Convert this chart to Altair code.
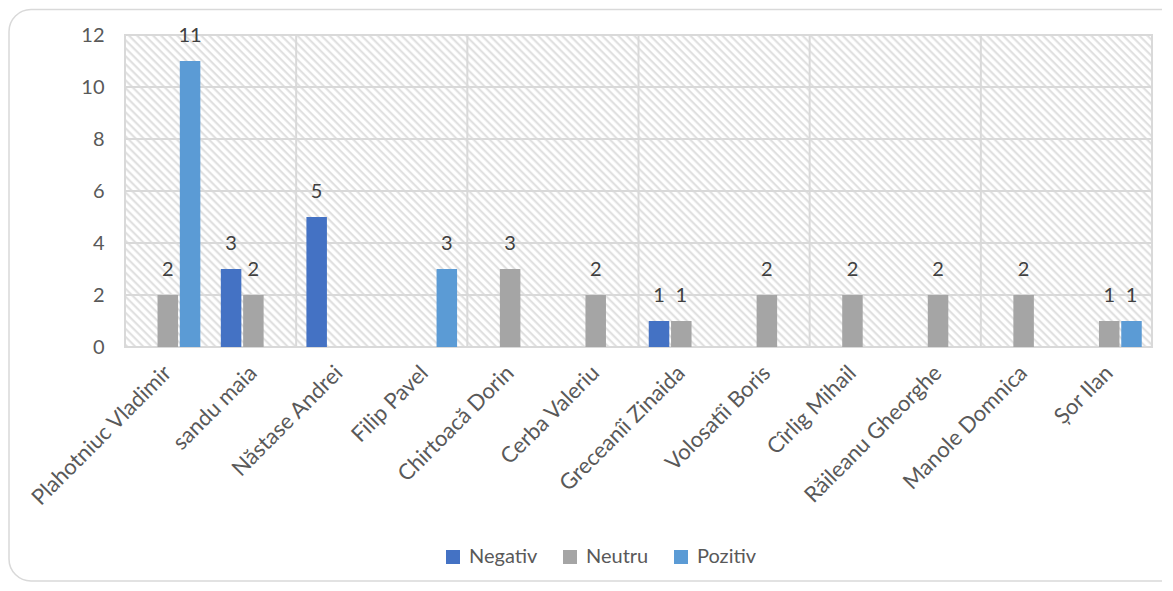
import altair as alt
import pandas as pd

categories = ["Plahotniuc Vladimir", "sandu maia", "Năstase Andrei", "Filip Pavel",
              "Chirtoacă Dorin", "Cerba Valeriu", "Greceanîi Zinaida", "Volosatîi Boris",
              "Cîrlig Mihail", "Răileanu Gheorghe", "Manole Domnica", "Șor Ilan"]
series = ["Negativ", "Neutru", "Pozitiv"]
negativ = [0, 3, 5, 0, 0, 0, 1, 0, 0, 0, 0, 0]
neutru = [2, 2, 0, 0, 3, 2, 1, 2, 2, 2, 2, 1]
pozitiv = [11, 0, 0, 3, 0, 0, 0, 0, 0, 0, 0, 1]
y_ticks = [0, 2, 4, 6, 8, 10, 12]
colors = ["#4472C4", "#A5A5A5", "#5B9BD5"]

rows = []
for s, vals in zip(series, [negativ, neutru, pozitiv]):
    for c, v in zip(categories, vals):
        rows.append({"cat": c, "series": s, "value": v})
df = pd.DataFrame(rows)

W, H = 1027, 312
FONT = "Lato"
GRID = "#d9d9d9"
TXT = "#595959"

# hatch pattern as a striped gradient (decorative background)
r = H / W
a = (1 + r) / (1 + r * r)
n_periods = int(round(((W + H) / 2 ** 0.5) / (8 / 2 ** 0.5)))
P = 1.0 / n_periods
stops = []
for k in range(n_periods):
    b = k * P
    stops += [
        alt.GradientStop(color="#ffffff", offset=b),
        alt.GradientStop(color="#dedede", offset=b + 0.32 * P),
        alt.GradientStop(color="#dedede", offset=b + 0.40 * P),
        alt.GradientStop(color="#ffffff", offset=b + 0.64 * P),
    ]
stops.append(alt.GradientStop(color="#ffffff", offset=1.0))
hatch = alt.LinearGradient(gradient="linear", stops=stops, x1=0, y1=1, x2=a, y2=1 - a * r)

xscale = alt.Scale(domain=categories, paddingInner=0, paddingOuter=0)
yscale = alt.Scale(domain=[0, 12])

x_axis = alt.Axis(labelAngle=-45, labelAlign="right", labelBaseline="middle",
                  labelFontSize=22, labelFont=FONT, labelColor=TXT, labelPadding=22,
                  labelLimit=0, ticks=False, domain=False, grid=False, title=None)
y_axis = alt.Axis(values=y_ticks, labelFontSize=20, labelFont=FONT, labelColor=TXT,
                  labelPadding=21, ticks=False, domain=False, grid=False, title=None)

one = alt.Data(values=[{"k": 1}])

border = alt.Chart(one).mark_rect(
    fillOpacity=0, stroke=GRID, strokeWidth=1.5, cornerRadius=22
).encode(x=alt.value(-116), x2=alt.value(1060), y=alt.value(-25.5), y2=alt.value(546))

bg = alt.Chart(one).mark_rect(fill=hatch, stroke=GRID, strokeWidth=2).encode(
    x=alt.value(0), x2=alt.value(W), y=alt.value(0), y2=alt.value(H)
)

hgrid = alt.Chart(pd.DataFrame({"value": y_ticks})).mark_rule(color=GRID, strokeWidth=2).encode(
    y=alt.Y("value:Q", scale=yscale, axis=y_axis), x=alt.value(0), x2=alt.value(W)
)

vgrid = alt.Chart(pd.DataFrame({"cat": categories[2::2]})).mark_rule(color=GRID, strokeWidth=2).encode(
    x=alt.X("cat:N", scale=xscale, sort=categories, axis=x_axis, bandPosition=0),
    y=alt.value(0), y2=alt.value(H)
)

base = alt.Chart(df)
xoff = alt.XOffset("series:N", sort=series,
                   scale=alt.Scale(domain=series, paddingInner=0.08, paddingOuter=0.46))

bars = base.mark_bar().encode(
    x=alt.X("cat:N", scale=xscale, sort=categories, axis=x_axis),
    xOffset=xoff,
    y=alt.Y("value:Q", scale=yscale, axis=y_axis),
    color=alt.Color("series:N", sort=series, scale=alt.Scale(domain=series, range=colors),
                    legend=alt.Legend(title=None, orient="none", legendX=318, legendY=512,
                                      direction="horizontal", symbolType="square",
                                      symbolSize=196, symbolStrokeWidth=0,
                                      labelFontSize=20, labelFont=FONT, labelColor=TXT,
                                      labelOffset=6, columnPadding=22)),
)

labels = base.transform_filter("datum.value > 0").mark_text(
    dy=-19, baseline="alphabetic", fontSize=20, font=FONT, color="#404040"
).encode(
    x=alt.X("cat:N", scale=xscale, sort=categories, axis=x_axis),
    xOffset=xoff,
    y=alt.Y("value:Q", scale=yscale, axis=y_axis),
    text=alt.Text("value:Q"),
)

chart = alt.layer(border, bg, hgrid, vgrid, bars, labels).properties(
    width=W, height=H,
    autosize=alt.AutoSizeParams(type="none"),
    padding={"left": 117, "top": 27, "right": 10, "bottom": 236},
).configure_view(stroke=None).configure(background="white")

chart.save("out.html", embed_options={"renderer": "svg", "actions": False})
